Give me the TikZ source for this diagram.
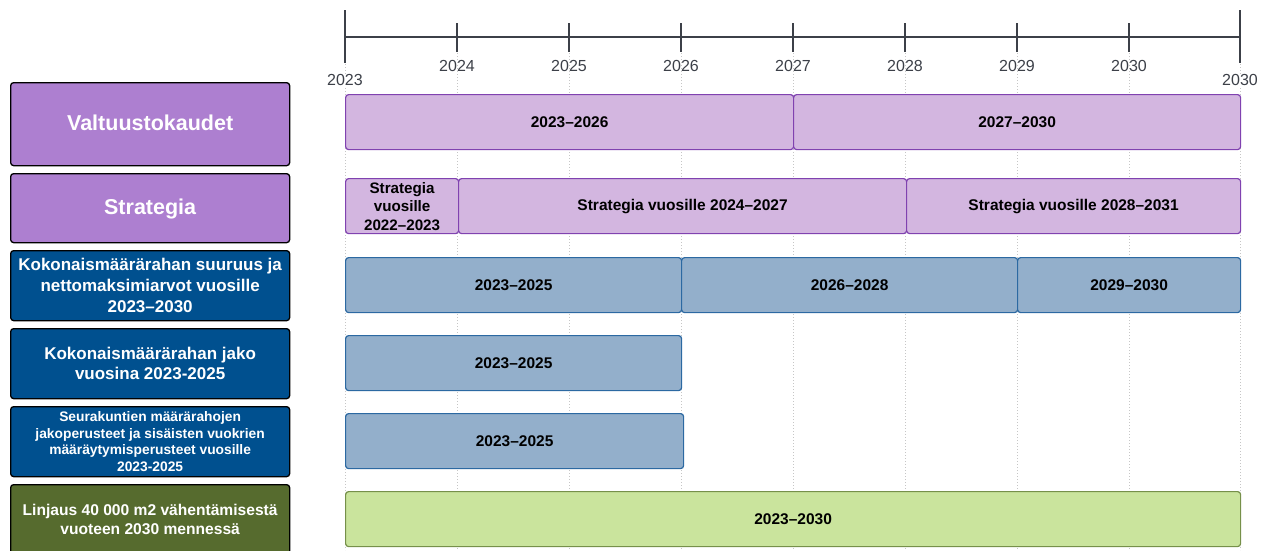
\documentclass[tikz,border=0pt]{standalone}
\usepackage{fontspec}
\setmainfont{Liberation Sans}
\definecolor{lila}{HTML}{AD7FD0}
\definecolor{lilabar}{HTML}{D3B6E0}
\definecolor{lilaline}{HTML}{8042B0}
\definecolor{sini}{HTML}{00508F}
\definecolor{sinibar}{HTML}{93AFCB}
\definecolor{siniline}{HTML}{2C69A2}
\definecolor{vihrea}{HTML}{566B2E}
\definecolor{vihreabar}{HTML}{CAE49D}
\definecolor{vihrealine}{HTML}{76904A}
\definecolor{akseli}{HTML}{3C4048}
\tikzset{
  lbox/.style={draw=black, line width=1.3pt, rounded corners=3pt, text=white,
    font=\bfseries, align=center, anchor=north west, minimum width=279pt,
    inner sep=0pt},
  bar/.style={draw, line width=1.2pt, rounded corners=3pt, anchor=north west,
    minimum height=55pt, inner sep=0pt, align=center,
    font=\fontsize{15.5}{18.5}\selectfont\bfseries},
  lilabox/.style={bar, fill=lilabar, draw=lilaline},
  sinibox/.style={bar, fill=sinibar, draw=siniline},
  vihreabox/.style={bar, fill=vihreabar, draw=vihrealine},
  vuosi/.style={text=akseli, font=\fontsize{16}{18}\selectfont, inner sep=0pt}
}
\begin{document}
\begin{tikzpicture}[x=1pt,y=-1pt]
  \useasboundingbox (0,0) rectangle (1264,550);
  % apuviivat
  \foreach \x in {457,569,681,793,905,1017,1129}
    \draw[gray!45, line width=0.8pt, dash pattern=on 1pt off 2pt] (\x,53) -- (\x,550);
  \foreach \x in {345,1240}
    \draw[gray!45, line width=0.8pt, dash pattern=on 1pt off 2pt] (\x,64) -- (\x,550);
  % aikajana
  \draw[akseli, line width=1.2pt] (345,37) -- (1240,37);
  \foreach \x in {345,1240}
    \draw[akseli, line width=1.2pt] (\x,10) -- (\x,63);
  \foreach \x in {457,569,681,793,905,1017,1129}
    \draw[akseli, line width=1.2pt] (\x,23) -- (\x,52);
  \foreach \x/\v in {457/2024,569/2025,681/2026,793/2027,905/2028,1017/2029,1129/2030}
    \node[vuosi] (t\v) at (\x,66) {\v};
  \node[vuosi, fill=white] (alku) at (345,80) {2023};
  \node[vuosi, fill=white] (loppu) at (1240,80) {2030};

  % vasen sarake
  \node[lbox, fill=lila, minimum height=83pt, text depth=2pt, font=\fontsize{21.5}{25}\selectfont\bfseries]
    (valt) at (10,82) {Valtuustokaudet};
  \node[lbox, fill=lila, minimum height=69pt, text depth=2pt, font=\fontsize{21.5}{25}\selectfont\bfseries]
    (strat) at (10,173) {Strategia};
  \node[lbox, fill=sini, minimum height=70pt, font=\fontsize{17}{21}\selectfont\bfseries]
    (koko) at (10,250) {Kokonaismäärärahan suuruus ja\\nettomaksimiarvot vuosille\\2023–2030};
  \node[lbox, fill=sini, minimum height=70pt, font=\fontsize{17}{20.5}\selectfont\bfseries]
    (jako) at (10,328) {Kokonaismäärärahan jako\\vuosina 2023-2025};
  \node[lbox, fill=sini, minimum height=70pt, font=\fontsize{13.8}{16.7}\selectfont\bfseries]
    (seura) at (10,406) {Seurakuntien määrärahojen\\jakoperusteet ja sisäisten vuokrien\\määräytymisperusteet vuosille\\2023-2025};
  \node[lbox, fill=vihrea, minimum height=70pt, font=\fontsize{15.6}{18.5}\selectfont\bfseries]
    (linj) at (10,484) {Linjaus 40 000 m2 vähentämisestä\\vuoteen 2030 mennessä};

  % palkit
  \node[lilabox, minimum width=448pt] (v1) at (345,94) {2023–2026};
  \node[lilabox, minimum width=447pt] (v2) at (793,94) {2027–2030};
  \node[lilabox, minimum width=113pt, font=\fontsize{15.2}{18.5}\selectfont\bfseries]
    (s1) at (345,178) {Strategia\\vuosille\\2022–2023};
  \node[lilabox, minimum width=448pt] (s2) at (458,178) {Strategia vuosille 2024–2027};
  \node[lilabox, minimum width=334pt] (s3) at (906,178) {Strategia vuosille 2028–2031};
  \node[sinibox, minimum width=336pt] (k1) at (345,257) {2023–2025};
  \node[sinibox, minimum width=336pt] (k2) at (681,257) {2026–2028};
  \node[sinibox, minimum width=223pt] (k3) at (1017,257) {2029–2030};
  \node[sinibox, minimum width=336pt] (j1) at (345,335) {2023–2025};
  \node[sinibox, minimum width=338pt] (p1) at (345,413) {2023–2025};
  \node[vihreabox, minimum width=895pt] (l1) at (345,491) {2023–2030};
\end{tikzpicture}
\end{document}
